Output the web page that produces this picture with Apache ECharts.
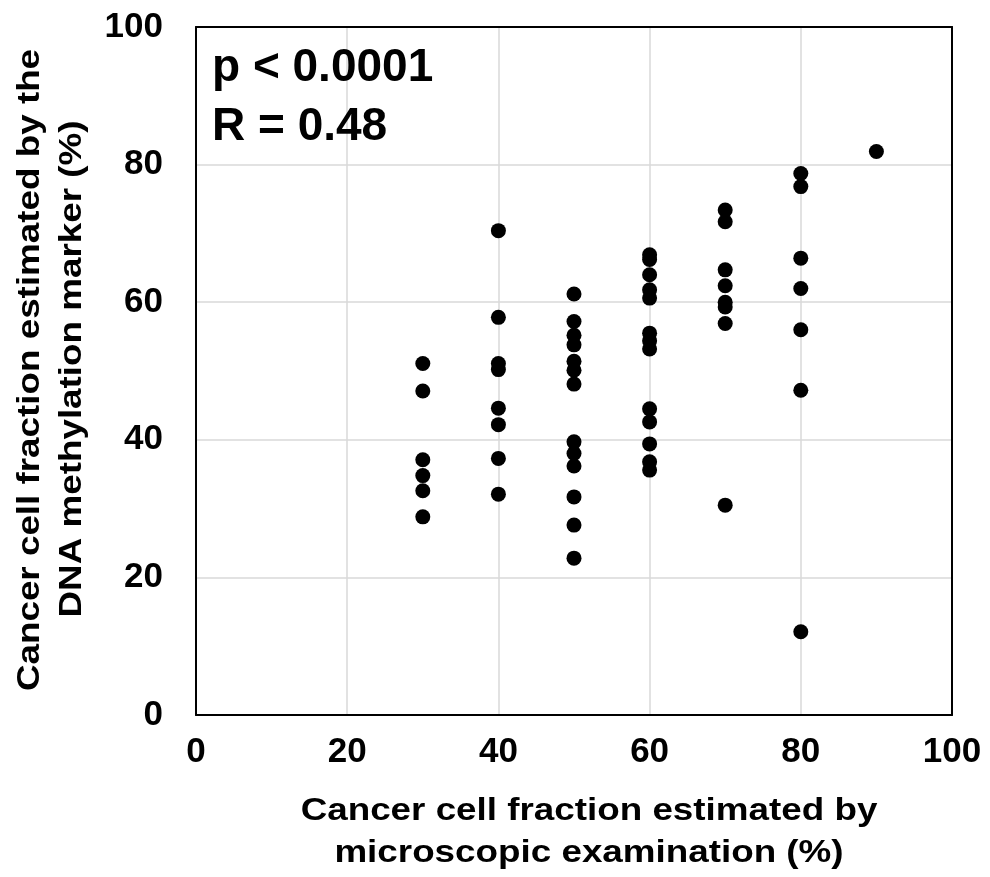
<!DOCTYPE html>
<html>
<head>
<meta charset="utf-8">
<script src="https://cdn.jsdelivr.net/npm/echarts@6/dist/echarts.min.js"></script>
<style>html,body{margin:0;padding:0;background:#fff}#c{width:990px;height:877px}</style>
</head>
<body>
<div id="c"></div>
<script>
// Microscopic estimate groups (x) and methylation-marker estimates (y) for each group
const xGroups = [30, 40, 50, 60, 70, 80, 90];
const y30 = [51.1, 47.1, 37.1, 34.8, 32.6, 28.8];
const y40 = [70.4, 57.8, 51.1, 50.2, 44.6, 42.2, 37.3, 32.1];
const y50 = [61.2, 57.2, 55.2, 53.8, 51.4, 50.1, 48.1, 39.7, 38.0, 36.2, 31.7, 27.6, 22.8];
const y60 = [66.9, 66.2, 64.0, 61.8, 60.6, 55.5, 54.4, 53.2, 44.5, 42.6, 39.4, 36.8, 35.6];
const y70 = [73.4, 71.7, 64.7, 62.4, 60.0, 59.3, 56.9, 30.5];
const y80 = [78.7, 76.8, 66.4, 62.0, 56.0, 47.2, 12.1];
const y90 = [81.9];
const yGroups = [y30, y40, y50, y60, y70, y80, y90];

const xTitle = ['Cancer cell fraction estimated by', 'microscopic examination (%)'];
const yTitle = ['Cancer cell fraction estimated by the', 'DNA methylation marker (%)'];
const annot = ['p < 0.0001', 'R = 0.48'];

const points = [];
xGroups.forEach((x, i) => yGroups[i].forEach(y => points.push([x, y])));

const FONT = '"Liberation Sans", Arial, sans-serif';
const chart = echarts.init(document.getElementById('c'));
const tf = (size) => 'bold ' + size + 'px ' + FONT;
const gridStyle = { show: true, showMinLine: false, showMaxLine: false, lineStyle: { color: '#d9d9d9', width: 1.5 } };
const edge = { show: true, onZero: false, lineStyle: { color: '#000', width: 2 } };

chart.setOption({
  animation: false,
  backgroundColor: '#fff',
  grid: { left: 196, right: 38, top: 27, bottom: 162, show: false },
  xAxis: [{
    type: 'value', min: 0, max: 100, interval: 20, position: 'bottom',
    axisLine: edge, axisTick: { show: false },
    splitLine: gridStyle,
    axisLabel: { margin: 20, color: '#000', fontSize: 35, fontWeight: 'bold', fontFamily: FONT }
  }, {
    type: 'value', min: 0, max: 100, interval: 20, position: 'top',
    axisLine: edge, axisTick: { show: false }, axisLabel: { show: false }, splitLine: { show: false }
  }],
  yAxis: [{
    type: 'value', min: 0, max: 100, interval: 20, position: 'left',
    axisLine: edge, axisTick: { show: false },
    splitLine: gridStyle,
    axisLabel: { margin: 33, color: '#000', fontSize: 35, fontWeight: 'bold', fontFamily: FONT }
  }, {
    type: 'value', min: 0, max: 100, interval: 20, position: 'right',
    axisLine: edge, axisTick: { show: false }, axisLabel: { show: false }, splitLine: { show: false }
  }],
  series: [{
    type: 'scatter', data: points, symbol: 'circle', symbolSize: 15,
    itemStyle: { color: '#000', opacity: 1 }, z: 5
  }],
  graphic: [
    { type: 'text', x: 212, y: 68, style: { text: annot[0], font: tf(46), fill: '#000', align: 'left', verticalAlign: 'middle', textAlign: 'left', textVerticalAlign: 'middle' }, z: 10 },
    { type: 'text', x: 212, y: 127, style: { text: annot[1], font: tf(46), fill: '#000', align: 'left', verticalAlign: 'middle', textAlign: 'left', textVerticalAlign: 'middle' }, z: 10 },
    { type: 'text', x: 589, y: 811, scaleX: 1.15, style: { text: xTitle[0], font: tf(32), fill: '#000', align: 'center', verticalAlign: 'middle', textAlign: 'center', textVerticalAlign: 'middle' } },
    { type: 'text', x: 589, y: 853, scaleX: 1.15, style: { text: xTitle[1], font: tf(32), fill: '#000', align: 'center', verticalAlign: 'middle', textAlign: 'center', textVerticalAlign: 'middle' } },
    { type: 'text', x: 30, y: 370, rotation: Math.PI / 2, scaleX: 1.15, style: { text: yTitle[0], font: tf(32), fill: '#000', align: 'center', verticalAlign: 'middle', textAlign: 'center', textVerticalAlign: 'middle' } },
    { type: 'text', x: 72, y: 369, rotation: Math.PI / 2, scaleX: 1.15, style: { text: yTitle[1], font: tf(32), fill: '#000', align: 'center', verticalAlign: 'middle', textAlign: 'center', textVerticalAlign: 'middle' } }
  ]
});
</script>
</body>
</html>
